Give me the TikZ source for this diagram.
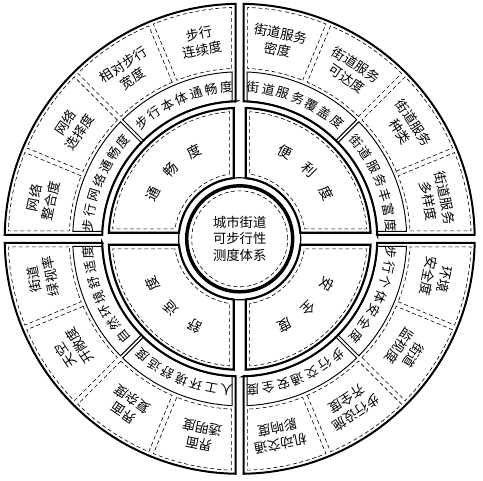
\documentclass[tikz,border=0pt]{standalone}
\usepackage{fontspec}
\setmainfont{Noto Sans CJK SC}

% annular cell: [style] r1 r2 a1 a2 offset-at-a1 offset-at-a2
\newcommand{\ringcell}[7][]{%
  \pgfmathsetmacro{\ia}{#4+asin(#6/#2)}%
  \pgfmathsetmacro{\oa}{#4+asin(#6/#3)}%
  \pgfmathsetmacro{\ib}{#5-asin(#7/#2)}%
  \pgfmathsetmacro{\ob}{#5-asin(#7/#3)}%
  \draw[#1] (\ia:#2) -- (\oa:#3) arc[start angle=\oa, end angle=\ob, radius=#3]
    -- (\ib:#2) arc[start angle=\ib, end angle=\ia, radius=#2] -- cycle;%
}
% characters set clockwise along an arc: [style] name radius start step list
\newcommand{\arclabel}[6][glyph]{%
  \foreach \ch [count=\i from 0] in {#6} {
    \pgfmathsetmacro{\ang}{#4-#5*\i}
    \node[#1, rotate=\ang-90] (#2-\i) at (\ang:#3) {\ch};
  }%
}

\begin{document}
\begin{tikzpicture}[x=0.75pt,y=0.75pt]
  \tikzstyle{quadline} = [line width=1.5pt]
  \tikzstyle{bandbox} = [line width=0.7pt]
  \tikzstyle{sectline} = [line width=1.6pt]
  \tikzstyle{rimdash} = [line width=0.45pt, dash pattern=on 3pt off 2pt]
  \tikzstyle{glyph} = [inner sep=0pt, font=\fontsize{10.5}{12}\selectfont]
  \tikzstyle{bandglyph} = [inner sep=0pt, font=\fontsize{9.6}{10}\selectfont]
  \tikzstyle{celltext} = [inner sep=0pt, align=center, font=\fontsize{10}{12.5}\selectfont]

  \useasboundingbox (-239.7,-241.2) rectangle (243.3,238.8);

  \foreach \b in {0,90,180,270} {
    \ringcell[quadline]{137.5}{235}{\b}{\b+90}{4}{4}
    \ringcell[bandbox]{138}{167}{\b}{\b+45}{7.5}{1.5}
    \ringcell[bandbox]{138}{167}{\b+45}{\b+90}{1.5}{7.5}
    \ringcell[sectline]{61}{131}{\b}{\b+90}{6}{6}
    \ringcell[rimdash]{65.5}{127.5}{\b}{\b+90}{10}{10}
    \foreach \k in {0,...,3} {
      \pgfmathsetmacro{\dlo}{\k==0 ? 8 : 2.5}
      \pgfmathsetmacro{\dhi}{\k==3 ? 8 : 2.5}
      \ringcell[rimdash]{170.5}{231.5}{\b+22.5*\k}{\b+22.5*\k+22.5}{\dlo}{\dhi}
    }
  }

  \draw[line width=0.9pt] (0,0) circle[radius=61];
  \draw[line width=2.6pt] (0,0) circle[radius=53];
  \draw[rimdash] (0,0) circle[radius=48];

  \node[celltext] (core) at (0,0) {城市街道\\可步行性\\测度体系};

  % inner sectors
  \arclabel{flow}{98}{152.5}{17.5}{通,畅,度}
  \arclabel{conv}{98}{62.5}{17.5}{便,利,度}
  \arclabel{safe}{98}{-27.5}{17.5}{安,全,度}
  \arclabel{comf}{98}{242.5}{17.5}{舒,适,度}

  % middle band
  \arclabel[bandglyph]{flow-body}{152}{130}{5.83}{步,行,本,体,通,畅,度}
  \arclabel[bandglyph]{flow-net}{152}{175}{5.83}{步,行,网,络,通,畅,度}
  \arclabel[bandglyph]{conv-cover}{152}{85}{5.83}{街,道,服,务,覆,盖,度}
  \arclabel[bandglyph]{conv-rich}{152}{40}{5.83}{街,道,服,务,丰,富,度}
  \arclabel[bandglyph]{safe-self}{152}{-5}{5.83}{步,行,个,体,安,全,度}
  \arclabel[bandglyph]{safe-traffic}{152}{-50}{5.83}{步,行,交,通,安,全,度}
  \arclabel[bandglyph]{comf-nature}{152}{220}{5.83}{自,然,环,境,舒,适,度}
  \arclabel[bandglyph]{comf-built}{152}{265}{5.83}{人,工,环,境,舒,适,度}

  % outer ring
  \node[celltext, rotate=11.25] (continuity) at (101.25:201) {步行\\连续度};
  \node[celltext, rotate=33.75] (rel-width) at (123.75:201) {相对步行\\宽度};
  \node[celltext, rotate=56.25] (choice) at (146.25:201) {网络\\选择度};
  \node[celltext, rotate=78.75] (integration) at (168.75:201) {网络\\整合度};

  \node[celltext, rotate=-11.25] (svc-density) at (78.75:201) {街道服务\\密度};
  \node[celltext, rotate=-33.75] (svc-reach) at (56.25:201) {街道服务\\可达度};
  \node[celltext, rotate=-56.25] (svc-kind) at (33.75:201) {街道服务\\种类};
  \node[celltext, rotate=-78.75] (svc-variety) at (11.25:201) {街道服务\\多样度};

  \node[celltext, rotate=-101.25] (env-safety) at (-11.25:201) {环境\\安全度};
  \node[celltext, rotate=-123.75] (watch) at (-33.75:201) {街道\\监视度};
  \node[celltext, rotate=-146.25] (facility) at (-56.25:201) {步行设施\\齐全度};
  \node[celltext, rotate=-168.75] (motor) at (-78.75:201) {机动交通\\影响度};

  \node[celltext, rotate=168.75] (transparency) at (258.75:201) {界面\\透明度};
  \node[celltext, rotate=146.25] (complexity) at (236.25:201) {界面\\复杂度};
  \node[celltext, rotate=123.75] (sky) at (213.75:201) {天空\\开敞度};
  \node[celltext, rotate=101.25] (green) at (191.25:201) {街道\\绿视率};
\end{tikzpicture}
\end{document}
